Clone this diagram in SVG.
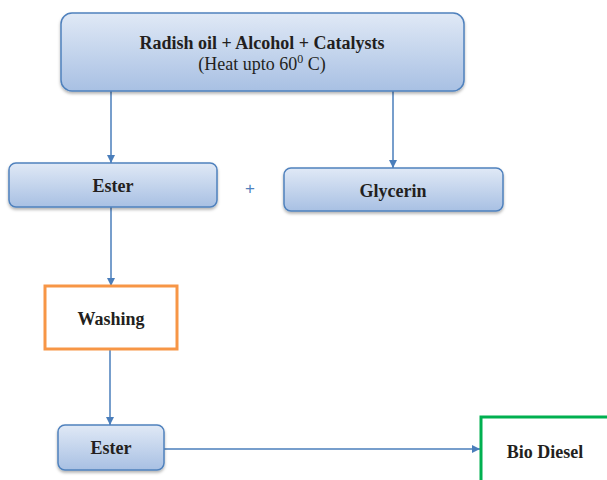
<svg xmlns="http://www.w3.org/2000/svg" width="607" height="480" viewBox="0 0 607 480">
<defs>
<linearGradient id="blueGrad" x1="0" y1="0" x2="0" y2="1">
<stop offset="0" stop-color="#e0e9f6"/>
<stop offset="1" stop-color="#a8c0e3"/>
</linearGradient>
<filter id="shadow" x="-10%" y="-10%" width="120%" height="140%">
<feDropShadow dx="0" dy="2" stdDeviation="1.5" flood-color="#000" flood-opacity="0.3"/>
</filter>
<marker id="arrow" viewBox="0 0 10 10" refX="10" refY="5" markerWidth="8" markerHeight="8" markerUnits="userSpaceOnUse" orient="auto">
<path d="M0,0 L10,5 L0,10 Z" fill="#4a7ebb"/>
</marker>
<style>
.bbox { fill: url(#blueGrad); stroke: #4f81bd; stroke-width: 1.5; filter: url(#shadow); }
.lbl { font-family: "Liberation Serif", "Times New Roman", serif; font-size: 18px; fill: #231f20; text-anchor: middle; }
.b { font-weight: bold; }
.conn { stroke: #4a7ebb; stroke-width: 1.5; fill: none; marker-end: url(#arrow); }
</style>
</defs>
<g id="connectors">
<line class="conn" x1="111" y1="91" x2="111" y2="163"/>
<line class="conn" x1="393" y1="91" x2="393" y2="168"/>
<line class="conn" x1="111" y1="207" x2="111" y2="286"/>
<line class="conn" x1="110" y1="350" x2="110" y2="425"/>
<line class="conn" x1="164" y1="449" x2="480" y2="449"/>
</g>
<g id="node-reactants">
<rect class="bbox" x="61" y="13" width="403" height="78" rx="11"/>
<text class="lbl b" x="262" y="49">Radish oil + Alcohol + Catalysts</text>
<text class="lbl" x="262" y="70">(Heat upto 60<tspan font-size="12" dy="-7">0</tspan><tspan dy="7"> C)</tspan></text>
</g>
<g id="node-ester1">
<rect class="bbox" x="9" y="163" width="208" height="44" rx="7"/>
<text class="lbl b" x="113" y="192">Ester</text>
</g>
<g id="plus">
<text x="250" y="194" font-family="Liberation Sans, Arial, sans-serif" font-size="17" fill="#4f81bd" text-anchor="middle">+</text>
</g>
<g id="node-glycerin">
<rect class="bbox" x="284" y="168" width="219" height="43" rx="7"/>
<text class="lbl b" x="393" y="197">Glycerin</text>
</g>
<g id="node-washing">
<rect x="45" y="286" width="132" height="63" fill="#ffffff" stroke="#f79646" stroke-width="3"/>
<text class="lbl b" x="111" y="325">Washing</text>
</g>
<g id="node-ester2">
<rect class="bbox" x="58" y="425" width="106" height="45" rx="7"/>
<text class="lbl b" x="111" y="454">Ester</text>
</g>
<g id="node-biodiesel">
<rect x="481" y="417" width="130" height="70" fill="#ffffff" stroke="#00b050" stroke-width="3"/>
<text class="lbl b" x="545" y="458">Bio Diesel</text>
</g>
</svg>
